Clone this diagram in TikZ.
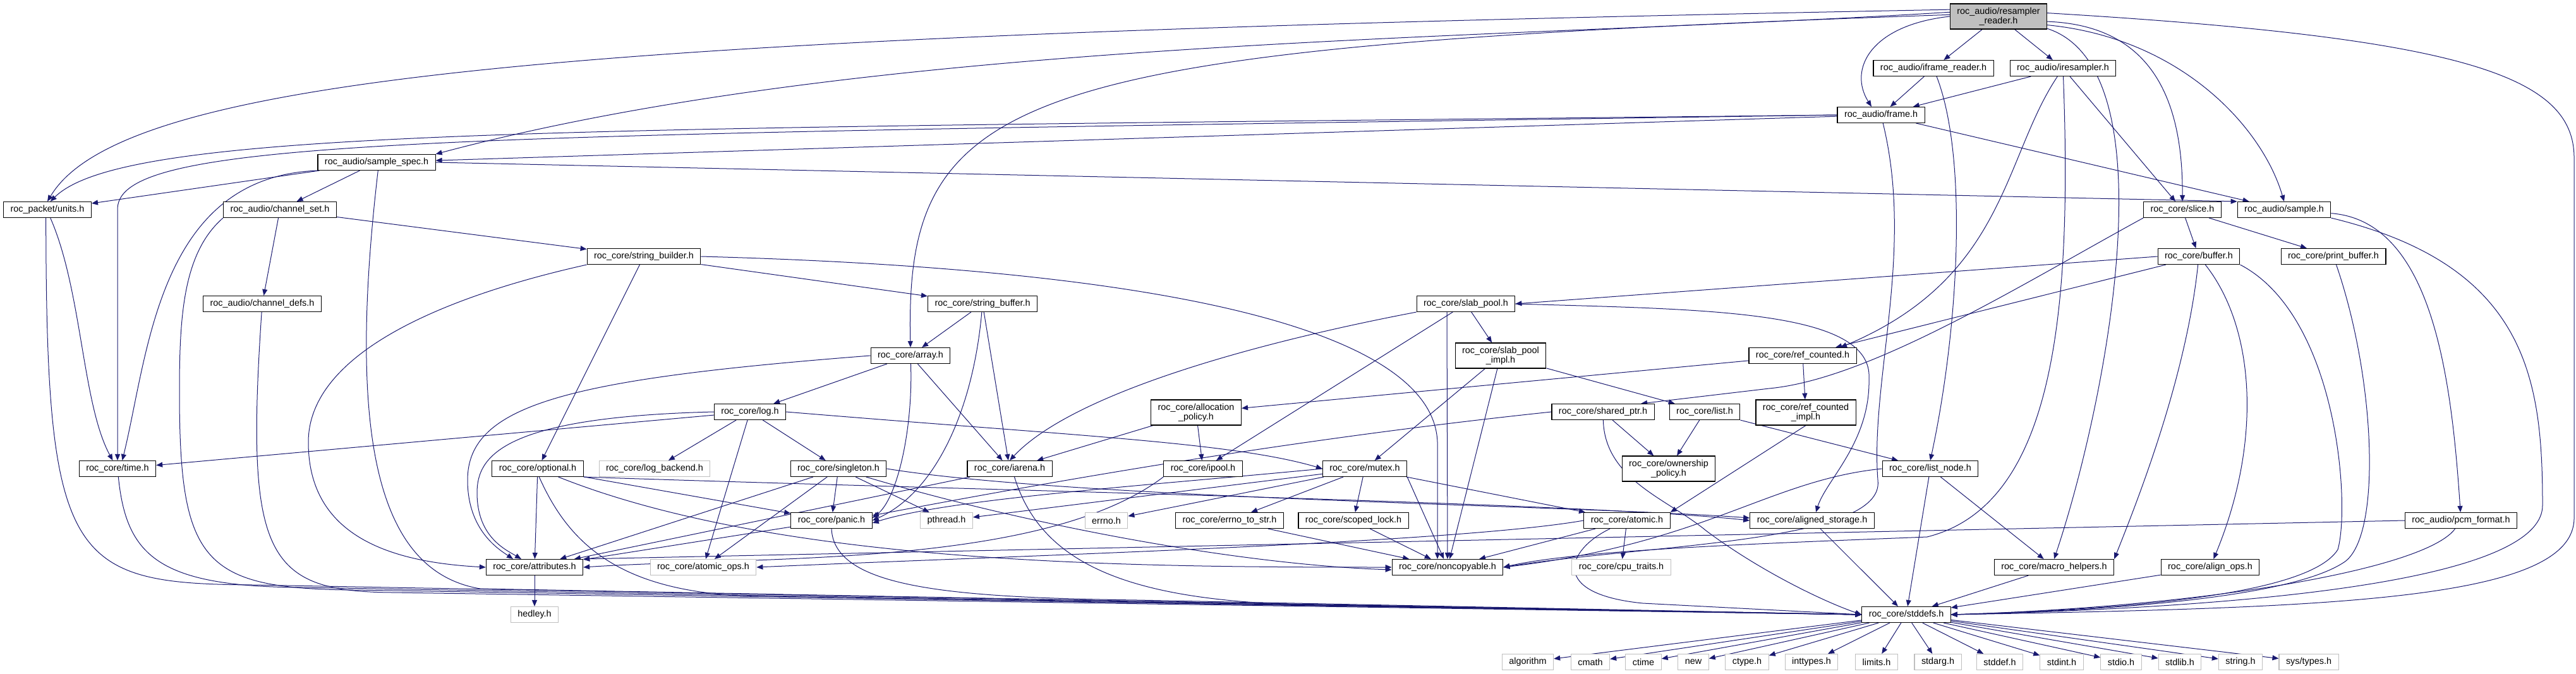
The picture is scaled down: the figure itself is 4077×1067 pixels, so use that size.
\documentclass[tikz,border=0pt]{standalone}
\usepackage{fontspec}
\setmainfont{Liberation Sans}
\usepackage{tikz}
\usetikzlibrary{arrows.meta}
\definecolor{edgeblue}{HTML}{191970}
\definecolor{extgrey}{HTML}{BFBFBF}
\pgfdeclarelayer{edges}
\pgfsetlayers{edges,main}

\begin{document}
\begin{tikzpicture}[x=1pt, y=-1pt,
    hdr/.style={rectangle, draw=black, line width=1.1pt, fill=white, font=\fontsize{14.4}{15}\selectfont, inner xsep=11pt, inner ysep=0pt, minimum height=25pt, align=center},
    ext/.style={hdr, draw=extgrey},
    tall/.style={hdr, minimum height=40pt},
    root/.style={tall, fill=extgrey},
    inc/.style={draw=edgeblue, line width=1pt, -{Triangle[length=10pt, width=8pt]}},
  ]
  \useasboundingbox (0,0) rectangle (4077,1067);

  % headers
  \node[root] (rreader) at (3163,26) {roc\_audio/resampler\\\_reader.h};
  \node[hdr] (iframe) at (3060,108) {roc\_audio/iframe\_reader.h};
  \node[hdr] (iresamp) at (3265,108) {roc\_audio/iresampler.h};
  \node[hdr] (frame) at (2977,182) {roc\_audio/frame.h};
  \node[hdr] (spec) at (596,257) {roc\_audio/sample\_spec.h};
  \node[hdr] (units) at (75,332) {roc\_packet/units.h};
  \node[hdr] (chset) at (443,332) {roc\_audio/channel\_set.h};
  \node[hdr] (chdefs) at (415,481) {roc\_audio/channel\_defs.h};
  \node[hdr] (slice) at (3454,332) {roc\_core/slice.h};
  \node[hdr] (sample) at (3615,332) {roc\_audio/sample.h};
  \node[hdr] (strbld) at (1019,406) {roc\_core/string\_builder.h};
  \node[hdr] (buffer) at (3480,406) {roc\_core/buffer.h};
  \node[hdr] (prbuf) at (3693,406) {roc\_core/print\_buffer.h};
  \node[hdr] (strbuf) at (1555,481) {roc\_core/string\_buffer.h};
  \node[hdr] (slab) at (2320,481) {roc\_core/slab\_pool.h};
  \node[hdr] (array) at (1441,563) {roc\_core/array.h};
  \node[tall] (slabimpl) at (2375,563) {roc\_core/slab\_pool\\\_impl.h};
  \node[hdr] (refcnt) at (2853,563) {roc\_core/ref\_counted.h};
  \node[hdr] (log) at (1187,652) {roc\_core/log.h};
  \node[tall] (alloc) at (1893,653) {roc\_core/allocation\\\_policy.h};
  \node[hdr] (shptr) at (2537,652) {roc\_core/shared\_ptr.h};
  \node[hdr] (list) at (2698,652) {roc\_core/list.h};
  \node[tall] (refimpl) at (2858,653) {roc\_core/ref\_counted\\\_impl.h};
  \node[hdr] (time) at (186,742) {roc\_core/time.h};
  \node[hdr] (optional) at (851,742) {roc\_core/optional.h};
  \node[ext] (logbe) at (1036,742) {roc\_core/log\_backend.h};
  \node[hdr] (singleton) at (1327,742) {roc\_core/singleton.h};
  \node[hdr] (iarena) at (1598,742) {roc\_core/iarena.h};
  \node[hdr] (ipool) at (1904,742) {roc\_core/ipool.h};
  \node[hdr] (mutex) at (2160,742) {roc\_core/mutex.h};
  \node[tall] (owner) at (2641,742) {roc\_core/ownership\\\_policy.h};
  \node[hdr] (lnode) at (3055,742) {roc\_core/list\_node.h};
  \node[hdr] (panic) at (1316,824) {roc\_core/panic.h};
  \node[ext] (pthread) at (1498,824) {pthread.h};
  \node[ext] (errno) at (1751,824) {errno.h};
  \node[hdr] (errstr) at (1946,824) {roc\_core/errno\_to\_str.h};
  \node[hdr] (scoped) at (2142,824) {roc\_core/scoped\_lock.h};
  \node[hdr] (atomic) at (2575,824) {roc\_core/atomic.h};
  \node[hdr] (aligned) at (2868,824) {roc\_core/aligned\_storage.h};
  \node[hdr] (pcm) at (3895,824) {roc\_audio/pcm\_format.h};
  \node[hdr] (attr) at (846,898) {roc\_core/attributes.h};
  \node[ext] (atops) at (1113,898) {roc\_core/atomic\_ops.h};
  \node[hdr] (noncopy) at (2291,898) {roc\_core/noncopyable.h};
  \node[ext] (cpu) at (2566,898) {roc\_core/cpu\_traits.h};
  \node[hdr] (macro) at (3251,898) {roc\_core/macro\_helpers.h};
  \node[hdr] (alops) at (3498,898) {roc\_core/align\_ops.h};
  \node[ext] (hedley) at (846,973) {hedley.h};
  \node[hdr] (stddefs) at (3017,973) {roc\_core/stddefs.h};

  % system headers
  \node[ext] (algorithm) at (2418,1048) {algorithm};
  \node[ext] (cmath) at (2517,1048) {cmath};
  \node[ext] (ctime) at (2601,1048) {ctime};
  \node[ext] (new) at (2680,1048) {new};
  \node[ext] (ctype) at (2765,1048) {ctype.h};
  \node[ext] (inttypes) at (2867,1048) {inttypes.h};
  \node[ext] (limits) at (2970,1048) {limits.h};
  \node[ext] (stdarg) at (3067,1048) {stdarg.h};
  \node[ext] (stddef) at (3165,1048) {stddef.h};
  \node[ext] (stdint) at (3263,1048) {stdint.h};
  \node[ext] (stdio) at (3357,1048) {stdio.h};
  \node[ext] (stdlib) at (3450,1048) {stdlib.h};
  \node[ext] (string) at (3546,1048) {string.h};
  \node[ext] (systypes) at (3654,1048) {sys/types.h};

  \begin{pgfonlayer}{edges}
  % resampler reader
  \draw[inc] (rreader) -- (iframe);
  \draw[inc] (rreader) -- (iresamp);
  \draw[inc] (rreader.west) .. controls (2960,40) and (2925,110) .. ([xshift=-15pt]frame.north);
  \draw[inc] (rreader.175) .. controls (2365,64) and (1386,58) .. (spec.north east);
  \draw[inc] (rreader.172) .. controls (1000,55) and (200,110) .. (units.north);
  \draw[inc] (rreader.178) .. controls (1600,75) and (1432,140) .. (array.north);
  \draw[inc] (rreader.-6) .. controls (3400,40) and (3455,150) .. (slice.north);
  \draw[inc] (rreader.-10) .. controls (3450,60) and (3580,200) .. (sample.north);
  \draw[inc] (rreader.-14) .. controls (3440,110) and (3330,650) .. (macro.north);
  \draw[inc] (rreader.4) .. controls (3900,60) and (4074,120) .. (4074,250) -- (4074,820) .. controls (4074,950) and (3700,962) .. (stddefs.east);

  % audio interfaces
  \draw[inc] (iframe) -- (frame);
  \draw[inc] (iframe) .. controls (3115,250) and (3100,520) .. (lnode.north);
  \draw[inc] (iresamp) -- (frame);
  \draw[inc] (iresamp) -- (slice);
  \draw[inc] (iresamp) .. controls (3170,250) and (3175,440) .. ([xshift=60pt]refcnt.north);
  \draw[inc] (iresamp) .. controls (3280,500) and (3250,800) .. (3050,850) .. controls (2800,860) and (2500,870) .. (noncopy.east);

  % frame
  \draw[inc] (frame.west) .. controls (900,205) and (200,200) .. (units.70);
  \draw[inc] (frame) -- (spec);
  \draw[inc] (frame.west) .. controls (700,215) and (190,215) .. (186,330) -- (time);
  \draw[inc] (frame) -- (sample);
  \draw[inc] (frame) .. controls (3030,400) and (2960,600) .. (2972,760) .. controls (2985,860) and (2600,862) .. (noncopy.east);

  % sample spec, units, channels
  \draw[inc] (spec) -- (units);
  \draw[inc] (spec) -- (chset);
  \draw[inc] (spec.south west) .. controls (250,280) and (235,560) .. (time.60);
  \draw[inc] (spec.east) -- (sample.north west);
  \draw[inc] (spec.-80) .. controls (548,700) and (600,905) .. (760,932) -- (stddefs.west);
  \draw[inc] (units.-70) .. controls (130,460) and (130,640) .. (time.120);
  \draw[inc] (units.-100) .. controls (73,890) and (110,924) .. (400,926) -- (stddefs.west);
  \draw[inc] (chset) -- (chdefs);
  \draw[inc] (chset) -- (strbld);
  \draw[inc] (chset.south west) .. controls (290,400) and (284,500) .. (284,620) .. controls (284,890) and (320,932) .. (560,934) -- (stddefs.west);
  \draw[inc] (chdefs) .. controls (388,880) and (420,936) .. (620,938) -- (stddefs.west);
  \draw[inc] (time) .. controls (200,880) and (250,929) .. (480,930) -- (stddefs.west);

  % strings and containers
  \draw[inc] (strbld) -- (strbuf);
  \draw[inc] (strbld) -- (optional);
  \draw[inc] (strbld.south west) .. controls (700,470) and (488,560) .. (488,700) .. controls (488,850) and (620,890) .. (attr.west);
  \draw[inc] (strbld.east) .. controls (2000,430) and (2270,560) .. (2275,700) -- ([xshift=-16pt]noncopy.north);
  \draw[inc] (strbuf) -- (array);
  \draw[inc] (strbuf) -- (iarena);
  \draw[inc] (strbuf) .. controls (1540,650) and (1480,780) .. (panic.east);
  \draw[inc] (array) -- (log);
  \draw[inc] (array) -- (iarena);
  \draw[inc] (array) .. controls (1445,680) and (1420,790) .. ([yshift=4pt]panic.east);
  \draw[inc] (array.west) .. controls (900,600) and (740,640) .. (740,760) .. controls (740,840) and (790,870) .. ([xshift=-34pt]attr.north);

  % log
  \draw[inc] (log) -- (time);
  \draw[inc] (log) -- (logbe);
  \draw[inc] (log) -- (singleton);
  \draw[inc] (log) -- (atops);
  \draw[inc] (log.west) .. controls (800,660) and (755,720) .. (755,780) .. controls (755,850) and (800,870) .. ([xshift=-21pt]attr.north);
  \draw[inc] (log.east) .. controls (1700,690) and (1950,700) .. (mutex.west);

  % optional and singleton
  \draw[inc] (optional) -- (attr);
  \draw[inc] (optional) -- (panic);
  \draw[inc] (optional.south east) .. controls (1500,775) and (2500,795) .. (aligned.west);
  \draw[inc] (optional) .. controls (1234,895) and (1795,898) .. (noncopy.west);
  \draw[inc] (optional.-80) .. controls (900,860) and (980,940) .. (1200,944) -- (stddefs.west);
  \draw[inc] (singleton) -- (panic);
  \draw[inc] (singleton) -- (atops);
  \draw[inc] (singleton) -- (pthread);
  \draw[inc] (singleton) -- (attr);
  \draw[inc] (singleton.east) .. controls (1700,790) and (2500,800) .. ([yshift=4pt]aligned.west);
  \draw[inc] (singleton) .. controls (1629,832) and (1963,894) .. ([yshift=-4pt]noncopy.west);
  \draw[inc] (panic) -- (attr);
  \draw[inc] (panic.south) .. controls (1320,930) and (1500,946) .. (1800,950) -- (stddefs.west);

  % arenas and pools
  \draw[inc] (iarena) -- (attr);
  \draw[inc] (iarena.-60) .. controls (1650,900) and (1800,955) .. (2100,958) -- (stddefs.west);
  \draw[inc] (alloc) -- (iarena);
  \draw[inc] (alloc) -- (ipool);
  \draw[inc] (ipool.south west) .. controls (1650,900) and (1200,880) .. (attr.east);
  \draw[inc] (slab) -- (slabimpl);
  \draw[inc] (slab.south west) .. controls (2000,540) and (1700,620) .. (iarena.north);
  \draw[inc] (slab) -- (ipool);
  \draw[inc] ([xshift=-30pt]slab.south) -- (noncopy);
  \draw[inc] (slab.east) .. controls (2700,490) and (2965,490) .. (2958,600) .. controls (2960,700) and (2890,760) .. ([xshift=6pt]aligned.north);
  \draw[inc] (slabimpl) -- (mutex);
  \draw[inc] (slabimpl) -- (list);
  \draw[inc] (slabimpl) -- (noncopy);

  % mutex and friends
  \draw[inc] (mutex) -- (scoped);
  \draw[inc] (mutex) -- (errno);
  \draw[inc] (mutex) -- (errstr);
  \draw[inc] (mutex) -- (pthread);
  \draw[inc] (mutex) -- (atomic);
  \draw[inc] (mutex.west) .. controls (1800,770) and (1500,790) .. ([yshift=-4pt]panic.east);
  \draw[inc] (mutex.south east) -- (noncopy);
  \draw[inc] (scoped) -- (noncopy);
  \draw[inc] (errstr) -- (noncopy);
  \draw[inc] (atomic.west) .. controls (2300,860) and (1600,880) .. (atops.east);
  \draw[inc] (atomic) -- (cpu);
  \draw[inc] (atomic) -- (noncopy);
  \draw[inc] (atomic) .. controls (2480,870) and (2450,940) .. (2600,955) -- (stddefs.west);

  % smart pointers and lists
  \draw[inc] (shptr) -- (owner);
  \draw[inc] (shptr.west) .. controls (2000,700) and (1600,775) .. ([yshift=8pt]panic.east);
  \draw[inc] (shptr) .. controls (2540,760) and (2640,790) .. (2700,840) .. controls (2780,900) and (2880,950) .. (stddefs.west);
  \draw[inc] (list) -- (owner);
  \draw[inc] (list.south east) -- (lnode);
  \draw[inc] (lnode.west) .. controls (2800,760) and (2700,860) .. (noncopy.east);
  \draw[inc] (lnode) -- (macro);
  \draw[inc] (lnode) -- (stddefs);
  \draw[inc] (refcnt) -- (refimpl);
  \draw[inc] (refcnt) -- (alloc);
  \draw[inc] (refimpl.south) -- (atomic.north east);

  % buffers
  \draw[inc] (slice) -- (buffer);
  \draw[inc] (slice) -- (prbuf);
  \draw[inc] (slice.south west) .. controls (3200,450) and (2960,600) .. (2800,615) -- ([xshift=60pt]shptr.north);
  \draw[inc] (buffer.west) -- (slab.east);
  \draw[inc] (buffer) -- (refcnt);
  \draw[inc] (buffer) .. controls (3570,520) and (3580,700) .. (alops);
  \draw[inc] (buffer) .. controls (3460,600) and (3380,800) .. (macro.north east);
  \draw[inc] (buffer.south east) .. controls (3700,500) and (3720,800) .. (3700,870) .. controls (3650,950) and (3300,966) .. (stddefs.east);
  \draw[inc] (prbuf) .. controls (3760,600) and (3770,850) .. (3710,890) .. controls (3620,950) and (3300,968) .. (stddefs.east);
  \draw[inc] (sample) .. controls (3850,350) and (3880,600) .. (pcm);
  \draw[inc] (sample.south east) .. controls (4000,420) and (4024,600) .. (4024,800) .. controls (4024,900) and (3700,958) .. (stddefs.east);
  \draw[inc] (pcm) .. controls (3840,900) and (3500,960) .. (stddefs.east);
  \draw[inc] (pcm.west) -- (attr.north east);

  % leaves
  \draw[inc] (aligned) -- (stddefs);
  \draw[inc] (macro) -- (stddefs);
  \draw[inc] (alops) -- (stddefs);
  \draw[inc] (attr) -- (hedley);

  % system includes
  \draw[inc] (stddefs) -- (algorithm);
  \draw[inc] (stddefs) -- (cmath);
  \draw[inc] (stddefs) -- (ctime);
  \draw[inc] (stddefs) -- (new);
  \draw[inc] (stddefs) -- (ctype);
  \draw[inc] (stddefs) -- (inttypes);
  \draw[inc] (stddefs) -- (limits);
  \draw[inc] (stddefs) -- (stdarg);
  \draw[inc] (stddefs) -- (stddef);
  \draw[inc] (stddefs) -- (stdint);
  \draw[inc] (stddefs) -- (stdio);
  \draw[inc] (stddefs) -- (stdlib);
  \draw[inc] (stddefs) -- (string);
  \draw[inc] (stddefs) -- (systypes);
  \end{pgfonlayer}
\end{tikzpicture}
\end{document}
